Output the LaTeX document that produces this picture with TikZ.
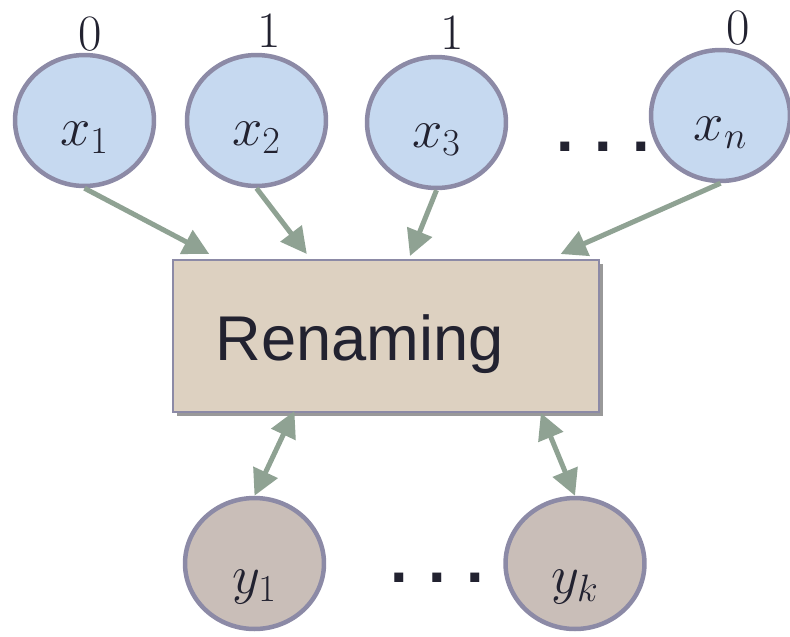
\RequirePackage{fix-cm}
\documentclass[tikz,border=0pt]{standalone}
\usepackage{fontspec}
\newfontfamily\boxfont{Liberation Sans}
\usepackage{xcolor}
\definecolor{xblue}{RGB}{198,217,240}
\definecolor{ytaupe}{RGB}{201,190,184}
\definecolor{boxtan}{RGB}{221,209,193}
\definecolor{rimgray}{RGB}{140,138,166}
\definecolor{flowgreen}{RGB}{143,162,147}
\definecolor{inkdark}{RGB}{34,34,48}
\usepackage{tikz}
\usetikzlibrary{arrows.meta, calc, shapes.geometric, shadows}

% variable name, lowered inside its ellipse
\newcommand{\vlab}[2][0.5cm]{\raisebox{-#1}[0pt][0pt]{$#2$}}

\begin{document}
\begin{tikzpicture}[x=0.02cm, y=-0.02cm,
    >={Triangle[length=0.52cm,width=0.52cm]},
    xvar/.style={ellipse, draw=rimgray, line width=0.09cm, fill=xblue,
      minimum width=2.78cm, minimum height=2.62cm, inner sep=0pt,
      text=inkdark, font=\fontsize{31}{31}\selectfont},
    yvar/.style={xvar, fill=ytaupe},
    bit/.style={inner sep=0pt, text=inkdark, font=\fontsize{29}{29}\selectfont},
    dotrow/.style={inner sep=0pt, text=inkdark, font=\boxfont\bfseries\fontsize{36}{36}\selectfont},
    renbox/.style={rectangle, draw=rimgray, line width=0.04cm, fill=boxtan,
      minimum width=8.52cm, minimum height=3.04cm,
      drop shadow={shadow xshift=0.08cm, shadow yshift=-0.08cm, fill=black, opacity=0.4}},
    flow/.style={->, draw=flowgreen, fill=flowgreen, line width=0.1cm},
  ]
  \useasboundingbox (0,0) rectangle (790,636);

  % --- input variables ---
  \node[xvar] (x1) at (84.5,120.5) {\vlab{x_1}};
  \node[xvar] (x2) at (256.5,120.5) {\vlab{x_2}};
  \node[xvar] (x3) at (436.5,122.5) {\vlab{x_3}};
  \node[xvar] (xn) at (720.5,115.5) {\vlab{x_n}};
  \node[dotrow] (xdots) at (603,147) {.\hspace{11.6pt}.\hspace{11.6pt}.};

  % bit values
  \node[bit] (b1) at (90,34.5) {0};
  \node[bit] (b2) at (269,30.5) {1};
  \node[bit] (b3) at (452,32.5) {1};
  \node[bit] (bn) at (738,28.5) {0};

  % --- renaming box ---
  \node[renbox] (box) at (386,336) {};
  \node[anchor=base west, inner sep=0pt, text=inkdark,
    font=\boxfont\fontsize{36}{36}\selectfont] (ren) at (215,360) {Renaming};

  % --- output names ---
  \node[yvar] (y1) at (254.5,563.5) {\vlab[0.6cm]{y_1}};
  \node[yvar] (yk) at (575,563.5) {\vlab[0.6cm]{y_k}};
  \node[dotrow] (ydots) at (437,578) {.\hspace{11.6pt}.\hspace{11.6pt}.};

  % arrows into the box
  \draw[flow] (x1.south) -- ($(box.north west)!0.087!(box.north east)+(0,-5)$);
  \draw[flow] (x2.south) -- ($(box.north west)!0.315!(box.north east)+(0,-5)$);
  \draw[flow] (x3.south) -- ($(box.north west)!0.556!(box.north east)+(0,-3)$);
  \draw[flow] (xn.south) -- ($(box.north west)!0.908!(box.north east)+(0,-5)$);

  % two-way arrows to the outputs
  \draw[flow, <->] ($(box.south west)!0.286!(box.south east)+(0,-2)$) -- (y1.north);
  \draw[flow, <->] ($(box.south west)!0.862!(box.south east)$) -- (yk.north);
\end{tikzpicture}
\end{document}
